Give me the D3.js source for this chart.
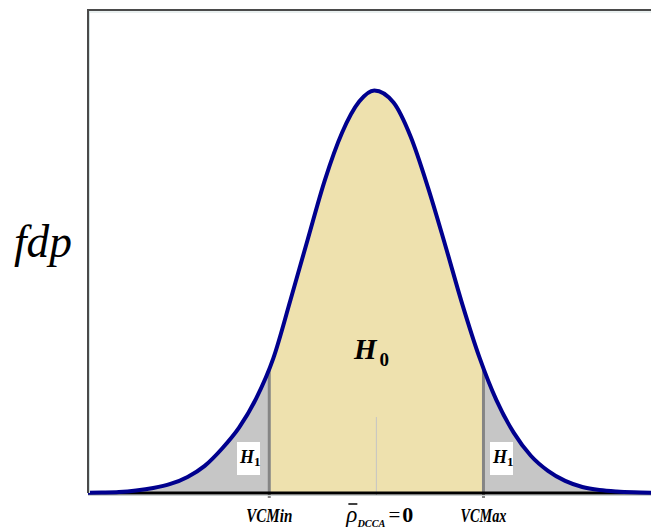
<!DOCTYPE html>
<html>
<head>
<meta charset="utf-8">
<script src="https://cdn.jsdelivr.net/npm/d3@7"></script>
<style>
  html, body { margin: 0; padding: 0; background: #fff; }
  svg { display: block; }
  text { font-family: "Liberation Serif", "Times New Roman", serif; }
</style>
</head>
<body>
<svg id="chart" width="651" height="532"></svg>
<script>
// Density curve, sampled along the statistic axis (units of standard deviation)
const densityX = [-4.2, -4.0, -3.75, -3.5, -3.25, -3.0, -2.75, -2.5, -2.25, -2.0, -1.75, -1.5, -1.25, -1.0,
                  -0.75, -0.5, -0.25, -0.03, 0.25, 0.5, 0.75, 1.0, 1.25, 1.5, 1.75, 2.0, 2.25, 2.5, 2.75,
                  3.0, 3.25, 3.5, 3.75, 4.0];
const densityY = [0.0003, 0.0005, 0.001, 0.0025, 0.005, 0.009, 0.016, 0.027, 0.044, 0.065, 0.094, 0.134, 0.192, 0.252,
                  0.311, 0.358, 0.389, 0.400, 0.388, 0.354, 0.304, 0.247, 0.188, 0.135, 0.092, 0.060, 0.037, 0.022, 0.012,
                  0.006, 0.003, 0.0015, 0.0007, 0.0003];

// Critical values and the null mean
const criticalNames = ["VCMin", "VCMax"];
const criticalValues = [-1.56, 1.56];
const meanValue = 0;

// Region labels
const nullLabel = ["H", "0"];
const altLabel = ["H", "1"];
const yLabel = "fdp";

const svg = d3.select("#chart");
const plotLeft = 88, plotRight = 651, plotTop = 10, plotBottom = 493;

const x = d3.scaleLinear().domain([-4.2, 4.0]).range([plotLeft, plotRight]);
const y = d3.scaleLinear().domain([0, 0.48]).range([plotBottom, plotTop]);

const pts = densityX.map((d, i) => [d, densityY[i]]);

const area = d3.area()
  .x(d => x(d[0])).y0(y(0)).y1(d => y(d[1]))
  .curve(d3.curveMonotoneX);
const line = d3.line()
  .x(d => x(d[0])).y(d => y(d[1]))
  .curve(d3.curveMonotoneX);

const defs = svg.append("defs");
defs.append("clipPath").attr("id", "under")
  .append("path").attr("d", area(pts));
defs.append("clipPath").attr("id", "accept")
  .append("rect")
  .attr("x", x(criticalValues[0])).attr("y", plotTop)
  .attr("width", x(criticalValues[1]) - x(criticalValues[0]))
  .attr("height", plotBottom - plotTop);

// Rejection tails (grey) under the whole curve
svg.append("path").attr("d", area(pts)).attr("fill", "#c6c6c6");

// Acceptance region (beige) between the critical values
svg.append("path").attr("d", area(pts))
  .attr("fill", "#eee1ae")
  .attr("clip-path", "url(#accept)");

// Mean marker
svg.append("line")
  .attr("x1", x(meanValue)).attr("x2", x(meanValue))
  .attr("y1", 417).attr("y2", plotBottom + 3)
  .attr("stroke", "#c4c4c4").attr("stroke-width", 1);

// Critical value lines, up to the curve
const crit = svg.append("g");
crit.selectAll("line.up").data(criticalValues).join("line")
  .attr("class", "up")
  .attr("x1", d => x(d)).attr("x2", d => x(d))
  .attr("y1", plotTop).attr("y2", plotBottom)
  .attr("stroke", "#858585").attr("stroke-width", 3)
  .attr("clip-path", "url(#under)");
crit.selectAll("line.stub").data(criticalValues).join("line")
  .attr("class", "stub")
  .attr("x1", d => x(d)).attr("x2", d => x(d))
  .attr("y1", plotBottom - 1).attr("y2", plotBottom + 5)
  .attr("stroke", "#858585").attr("stroke-width", 3);

// Baseline
svg.append("line")
  .attr("x1", plotLeft).attr("x2", plotRight).attr("y1", plotBottom + 2.5).attr("y2", plotBottom + 2.5)
  .attr("stroke", "#c9cfcf").attr("stroke-width", 1);
svg.append("line")
  .attr("x1", plotLeft).attr("x2", plotRight).attr("y1", plotBottom).attr("y2", plotBottom)
  .attr("stroke", "#000").attr("stroke-width", 3);

// Density curve
svg.append("path").attr("d", line(pts))
  .attr("fill", "none").attr("stroke", "#00008e")
  .attr("stroke-width", 4).attr("stroke-linejoin", "round");

// Frame (left and top)
svg.append("line").attr("x1", plotLeft + 1.5).attr("x2", plotLeft + 1.5).attr("y1", plotTop + 1).attr("y2", plotBottom)
  .attr("stroke", "#d3e0e0").attr("stroke-width", 1);
svg.append("line").attr("x1", plotLeft).attr("x2", plotRight).attr("y1", plotTop + 2).attr("y2", plotTop + 2)
  .attr("stroke", "#d3e0e0").attr("stroke-width", 1);
svg.append("line").attr("x1", plotLeft).attr("x2", plotLeft).attr("y1", plotTop - 1).attr("y2", plotBottom)
  .attr("stroke", "#4a4a4a").attr("stroke-width", 2);
svg.append("line").attr("x1", plotLeft - 1).attr("x2", plotRight).attr("y1", plotTop).attr("y2", plotTop)
  .attr("stroke", "#4a4a4a").attr("stroke-width", 2);

// Y label
svg.append("text").attr("x", 14).attr("y", 257)
  .attr("font-size", 46).attr("font-style", "italic")
  .attr("textLength", 58).attr("lengthAdjust", "spacingAndGlyphs")
  .text(yLabel);

// H0 label
const h0 = svg.append("text").attr("x", 354).attr("y", 359)
  .attr("font-weight", "bold").attr("font-style", "italic").attr("font-size", 29);
h0.append("tspan").text(nullLabel[0]);
h0.append("tspan").attr("dx", 3).attr("dy", 7).attr("font-size", 19).attr("font-style", "normal").text(nullLabel[1]);

// H1 labels in white boxes
const h1Boxes = [237, 490];
h1Boxes.forEach(bx => {
  svg.append("rect").attr("x", bx).attr("y", 442).attr("width", 23).attr("height", 33).attr("fill", "#fff");
  const t = svg.append("text").attr("x", bx + 3).attr("y", 463)
    .attr("font-weight", "bold").attr("font-style", "italic").attr("font-size", 18);
  t.append("tspan").text(altLabel[0]);
  t.append("tspan").attr("dy", 3).attr("font-size", 13).attr("font-style", "normal").text(altLabel[1]);
});

// Critical value names under the axis
svg.selectAll("text.crit").data(criticalValues).join("text")
  .attr("class", "crit")
  .attr("x", d => x(d)).attr("y", 522)
  .attr("text-anchor", "middle")
  .attr("font-weight", "bold").attr("font-style", "italic").attr("font-size", 19)
  .attr("textLength", 46).attr("lengthAdjust", "spacingAndGlyphs")
  .text((d, i) => criticalNames[i]);

// Mean label: rho-bar with DCCA subscript = 0
const mx = x(meanValue);
const rho = svg.append("text").attr("x", mx - 30).attr("y", 522)
  .attr("font-style", "italic").attr("font-size", 23);
rho.append("tspan").text("ρ");
rho.append("tspan").attr("dy", 5).attr("font-size", 11).attr("font-weight", "bold")
  .attr("textLength", 28).attr("lengthAdjust", "spacingAndGlyphs").text("DCCA");
rho.append("tspan").attr("dy", -5).attr("dx", 3).attr("font-style", "normal").attr("font-size", 21)
  .text("=");
rho.append("tspan").attr("dx", 2).attr("font-style", "normal").attr("font-size", 22).attr("font-weight", "bold")
  .text("0");
svg.append("line").attr("x1", mx - 28).attr("x2", mx - 19).attr("y1", 504).attr("y2", 504)
  .attr("stroke", "#000").attr("stroke-width", 1.5);
</script>
</body>
</html>
